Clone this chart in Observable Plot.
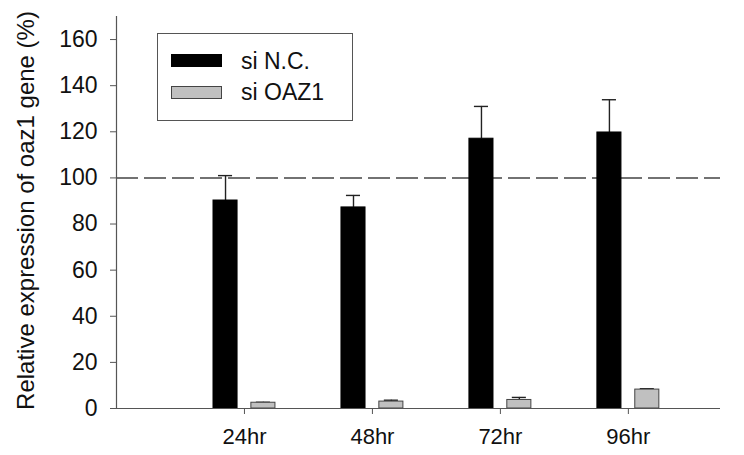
<!DOCTYPE html>
<html><head><meta charset="utf-8">
<script src="https://cdn.jsdelivr.net/npm/d3@7"></script>
<script src="https://cdn.jsdelivr.net/npm/@observablehq/plot@0.6"></script>
<style>
body{margin:0;background:#fff;font-family:"Liberation Sans",Arial,sans-serif;}
#wrap{position:relative;width:744px;height:455px;}
#legend{position:absolute;left:157px;top:33px;width:196px;height:88px;border:1px solid #555;box-sizing:border-box;background:#fff;}
.sw{position:absolute;left:13px;width:51px;height:13px;box-sizing:border-box;}
.lt{position:absolute;left:83px;font-size:23px;line-height:22px;color:#111;white-space:nowrap;}
</style></head>
<body>
<div id="wrap"></div>
<script>
const times = ["24hr", "48hr", "72hr", "96hr"];
const seriesNames = ["si N.C.", "si OAZ1"];
const ncValues = [90.2, 87.2, 117.0, 119.7];
const ncErrors = [10.8, 5.2, 14.0, 14.2];
const oazValues = [2.5, 3.0, 3.7, 8.2];
const oazErrors = [0.2, 0.6, 1.1, 0.4];
const yTicks = [0, 20, 40, 60, 80, 100, 120, 140, 160];
const yLabel = "Relative expression of oaz1 gene (%)";
const refLevel = 100;

const off = 0.148, half = 0.094, cap = 0.055;
const rows = [];
times.forEach((t, i) => {
  rows.push({t, pos: i + 1 - off, v: ncValues[i], e: ncErrors[i], s: seriesNames[0]});
  rows.push({t, pos: i + 1 + off, v: oazValues[i], e: oazErrors[i], s: seriesNames[1]});
});
const fillOf = s => s === seriesNames[0] ? "#000" : "#c0c0c0";
const strokeOf = s => s === seriesNames[0] ? "#000" : "#444";

const chart = Plot.plot({
  width: 744, height: 455,
  marginLeft: 116, marginRight: 24, marginTop: 16, marginBottom: 47,
  style: {fontFamily: "'Liberation Sans', Arial, sans-serif", color: "#111", background: "#fff"},
  x: {domain: [0, 4.72], axis: null},
  y: {domain: [0, 170], axis: null},
  marks: [
    Plot.ruleY([refLevel], {stroke: "#444", strokeWidth: 1.5, strokeDasharray: "22,6"}),
    Plot.ruleX(rows, {x: "pos", y1: "v", y2: d => d.v + d.e, stroke: "#222", strokeWidth: 1.4}),
    Plot.ruleY(rows, {y: d => d.v + d.e, x1: d => d.pos - cap, x2: d => d.pos + cap, stroke: "#222", strokeWidth: 1.4}),
    Plot.rect(rows, {x1: d => d.pos - half, x2: d => d.pos + half, y1: 0, y2: "v",
      fill: d => fillOf(d.s), stroke: d => strokeOf(d.s), strokeWidth: 1}),
    Plot.ruleX([0], {stroke: "#555", strokeWidth: 1.2}),
    Plot.ruleY([0], {stroke: "#555", strokeWidth: 1.2}),
    Plot.axisY({ticks: yTicks, tickSize: 6, tickPadding: 13, fontSize: 23, label: null, stroke: "#555"}),
    Plot.axisX({ticks: times.map((t, i) => i + 1), tickFormat: v => times[v - 1], tickSize: 6, tickPadding: 14, fontSize: 22, label: null, stroke: "#555"}),
    Plot.text([yLabel], {text: d => d, frameAnchor: "left", textAnchor: "middle", rotate: -90, dx: -83, dy: -2, lineAnchor: "bottom", fontSize: 24, fill: "#111"})
  ]
});
const wrap = document.getElementById("wrap");
wrap.appendChild(chart);

const legend = document.createElement("div");
legend.id = "legend";
seriesNames.forEach((s, i) => {
  const sw = document.createElement("div");
  sw.className = "sw";
  sw.style.top = (20 + i * 32) + "px";
  sw.style.background = fillOf(s);
  sw.style.border = "1px solid " + strokeOf(s);
  legend.appendChild(sw);
  const lt = document.createElement("div");
  lt.className = "lt";
  lt.style.top = (16 + i * 31) + "px";
  lt.textContent = s;
  legend.appendChild(lt);
});
wrap.appendChild(legend);
</script>
</body></html>
